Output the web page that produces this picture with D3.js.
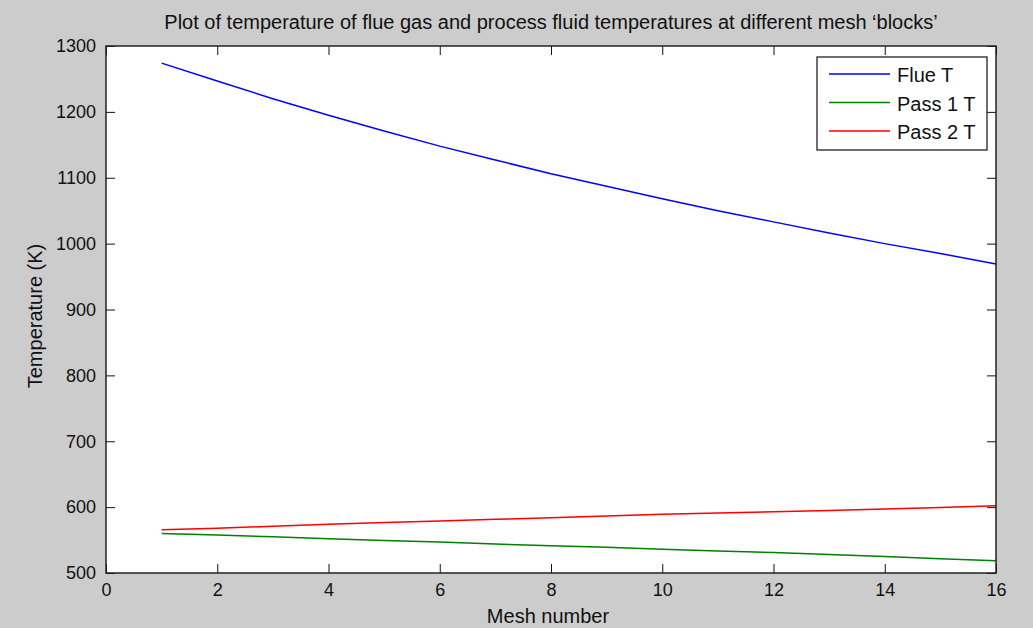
<!DOCTYPE html>
<html>
<head>
<meta charset="utf-8">
<script src="https://cdn.jsdelivr.net/npm/d3@7"></script>
<style>
  body { margin: 0; background: #cccccc; }
  text { font-family: "Liberation Sans", Arial, sans-serif; fill: #111; }
</style>
</head>
<body>
<div id="chart"></div>
<script>
// data
const meshNumbers = [1, 2, 3, 4, 5, 6, 7, 8, 9, 10, 11, 12, 13, 14, 15, 16];
const flueT = [1274, 1247, 1220, 1195, 1171, 1148, 1127, 1106, 1087, 1068, 1050, 1033, 1016, 1000, 985, 969];
const pass1T = [560, 557.5, 555, 552, 549.5, 547, 544, 541.5, 539, 536, 533.5, 531, 528, 525, 521.5, 518.5];
const pass2T = [565.5, 568, 571, 574, 576.5, 579, 581.5, 584, 586.5, 589, 591, 593, 595, 597, 599.5, 602];
const xTicks = [0, 2, 4, 6, 8, 10, 12, 14, 16];
const yTicks = [500, 600, 700, 800, 900, 1000, 1100, 1200, 1300];
const seriesNames = ["Flue T", "Pass 1 T", "Pass 2 T"];
const seriesColors = ["#0000ff", "#008000", "#ff0000"];

const w = 1033, h = 628;
const plotLeft = 106, plotRight = 996, plotTop = 46, plotBottom = 573;

const svg = d3.select("#chart").append("svg")
    .attr("width", w)
    .attr("height", h);

svg.append("rect")
    .attr("width", w).attr("height", h)
    .attr("fill", "#cccccc");

const xScale = d3.scaleLinear().domain([0, 16]).range([plotLeft, plotRight]);
const yScale = d3.scaleLinear().domain([500, 1300]).range([plotBottom, plotTop]);

// plot area
svg.append("rect")
    .attr("x", plotLeft).attr("y", plotTop)
    .attr("width", plotRight - plotLeft).attr("height", plotBottom - plotTop)
    .attr("fill", "#fff");

// axes, ticks pointing inward on all sides
const tickLen = 9;
function styleAxis(g) {
    g.selectAll("path").remove();
    g.selectAll("line").attr("stroke", "#111");
    g.selectAll("text").style("font-size", "18px");
}

svg.append("g")
    .attr("transform", "translate(0," + plotBottom + ")")
    .call(d3.axisBottom(xScale).tickValues(xTicks).tickSizeInner(-tickLen).tickPadding(10).tickFormat(d3.format("d")))
    .call(styleAxis);

svg.append("g")
    .attr("transform", "translate(0," + plotTop + ")")
    .call(d3.axisTop(xScale).tickValues(xTicks).tickSizeInner(-tickLen).tickFormat(""))
    .call(styleAxis);

svg.append("g")
    .attr("transform", "translate(" + plotLeft + ",0)")
    .call(d3.axisLeft(yScale).tickValues(yTicks).tickSizeInner(-tickLen).tickPadding(10).tickFormat(d3.format("d")))
    .call(styleAxis);

svg.append("g")
    .attr("transform", "translate(" + plotRight + ",0)")
    .call(d3.axisRight(yScale).tickValues(yTicks).tickSizeInner(-tickLen).tickFormat(""))
    .call(styleAxis);

// lines
const line = d3.line()
    .x((d, i) => xScale(meshNumbers[i]))
    .y(d => yScale(d));

[flueT, pass1T, pass2T].forEach((s, k) => {
    svg.append("path")
        .datum(s)
        .attr("fill", "none")
        .attr("stroke", seriesColors[k])
        .attr("stroke-width", 1.5)
        .attr("d", line);
});

// frame
svg.append("rect")
    .attr("x", plotLeft).attr("y", plotTop)
    .attr("width", plotRight - plotLeft).attr("height", plotBottom - plotTop)
    .attr("fill", "none")
    .attr("stroke", "#222")
    .attr("stroke-width", 1.5);

// legend
const legend = svg.append("g").attr("transform", "translate(817,57)");
legend.append("rect")
    .attr("width", 170).attr("height", 93)
    .attr("fill", "#fff")
    .attr("stroke", "#222")
    .attr("stroke-width", 1.3);

seriesNames.forEach((name, i) => {
    const yy = 17 + i * 28.5;
    legend.append("line")
        .attr("x1", 12).attr("x2", 73)
        .attr("y1", yy).attr("y2", yy)
        .attr("stroke", seriesColors[i])
        .attr("stroke-width", 1.5);
    legend.append("text")
        .attr("x", 80).attr("y", yy + 8)
        .style("font-size", "20px")
        .text(name);
});

// title and labels
svg.append("text")
    .attr("x", (plotLeft + plotRight) / 2)
    .attr("y", 29)
    .style("text-anchor", "middle")
    .style("font-size", "20px")
    .text("Plot of temperature of flue gas and process fluid temperatures at different mesh \u2018blocks\u2019");

svg.append("text")
    .attr("x", 548)
    .attr("y", 623)
    .style("text-anchor", "middle")
    .style("font-size", "20px")
    .text("Mesh number");

svg.append("text")
    .attr("transform", "rotate(-90)")
    .attr("x", -316)
    .attr("y", 42)
    .style("text-anchor", "middle")
    .style("font-size", "20px")
    .text("Temperature (K)");
</script>
</body>
</html>
